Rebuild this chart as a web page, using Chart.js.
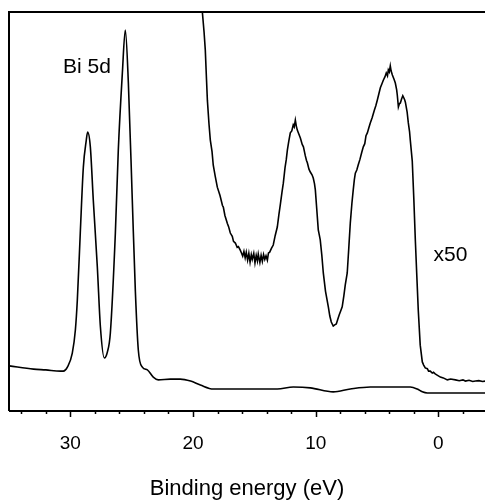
<!DOCTYPE html>
<html>
<head>
<meta charset="utf-8">
<script src="https://cdn.jsdelivr.net/npm/chart.js@4.4.1/dist/chart.umd.min.js"></script>
<style>
  html, body { margin: 0; padding: 0; background: #fff; }
  #wrap { width: 485px; height: 502px; position: relative; }
</style>
</head>
<body>
<div id="wrap"><canvas id="myChart"></canvas></div>
<script>
// Bi 5d spectrum, binding energy (eV) vs intensity (arb. units)
const energyMain = [34.97, 33.0, 32.0, 30.81, 30.57, 30.24, 29.84, 29.59, 29.43, 29.19, 28.94, 28.70, 28.59, 28.37, 28.13, 27.80, 27.55, 27.23, 26.98, 26.74, 26.33, 26.09, 25.76, 25.52, 25.27, 24.95, 24.70, 24.46, 24.13, 23.72, 23.24, 22.83, 21.85, 21.04, 20.2, 19.4, 18.35, 16.15, 13.13, 11.83, 10.44, 8.57, 7.18, 5.55, 2.29, 1.72, 1.31, 0.9, -3.82];
const intensityMain = [113, 105, 103, 100, 100, 110, 145, 203, 278, 446, 611, 679, 699, 662, 529, 361, 211, 133, 148, 195, 446, 654, 847, 955, 822, 529, 300, 153, 110, 103, 85, 78, 80, 80, 75, 65, 55, 55, 55, 60, 58, 48, 55, 60, 60, 55, 48, 45, 45];

// same spectrum magnified x50 (noisy)
const energyZoom = [20.2, 19.24, 19.1, 19.0, 18.9, 18.83, 18.7, 18.59, 18.45, 18.35, 18.2, 18.02, 17.8, 17.6, 17.53, 17.4, 17.2, 17.1, 16.96, 16.8, 16.7, 16.55, 16.4, 16.3, 16.15, 16.05,
  15.95, 15.85, 15.75, 15.66, 15.55, 15.45, 15.35, 15.25, 15.17, 15.05, 14.95, 14.85, 14.75, 14.68, 14.55, 14.45, 14.35, 14.25, 14.15, 14.05, 13.94, 13.85, 13.75, 13.6, 13.46, 13.3, 13.13, 13.0, 12.89, 12.75, 12.64, 12.5, 12.4, 12.31, 12.2, 12.07, 11.95, 11.83, 11.75, 11.66, 11.58, 11.5, 11.4, 11.25, 11.1, 11.0, 10.85, 10.75, 10.68, 10.55, 10.44, 10.3, 10.2, 10.1, 10.03,
  9.9, 9.79, 9.7, 9.63, 9.5, 9.38, 9.2, 8.97, 8.85, 8.73, 8.57, 8.45, 8.32, 8.2, 8.08, 7.95, 7.84, 7.7, 7.59, 7.43, 7.3, 7.18, 7.05, 6.94, 6.85, 6.77, 6.65, 6.53, 6.4, 6.25, 6.12, 6.0, 5.9, 5.79, 5.65, 5.55, 5.4, 5.22, 5.1, 4.98, 4.85, 4.73, 4.6, 4.49, 4.35, 4.25, 4.15, 4.08, 4.0, 3.92, 3.85, 3.75, 3.6, 3.51, 3.4, 3.35, 3.26, 3.18, 3.1, 3.0, 2.9, 2.85, 2.75, 2.69, 2.55, 2.45, 2.35, 2.29, 2.13, 2.0, 1.88, 1.76, 1.64, 1.48, 1.31, 1.2, 1.07, 0.9, 0.8, 0.66, 0.5, 0.4, 0.26, 0.1, -0.16, -0.4, -0.73, -1.0, -1.39, -1.7, -2.0, -2.2, -2.5, -2.8, -3.02, -3.3, -3.6, -3.83];
const intensityZoom = [1080, 1000, 950, 905, 830, 779, 720, 679, 650, 616, 590, 561, 540, 515, 511, 490, 470, 462, 446, 438, 425, 421, 410, 412, 403, 396,
  388, 400, 384, 398, 378, 395, 373, 392, 380, 395, 371, 390, 376, 393, 372, 390, 375, 392, 380, 389, 378, 396, 398, 408, 416, 440, 461, 492, 516, 548, 571, 610, 630, 654, 675, 697, 702, 717, 712, 729, 714, 704, 696, 684, 668, 662, 640, 628, 622, 606, 599, 592, 584, 570, 554,
  500, 454, 440, 429, 390, 346, 300, 261, 238, 223, 213, 216, 218, 230, 241, 252, 261, 290, 316, 346, 410, 471, 520, 554, 580, 596, 604, 617, 630, 648, 662, 670, 690, 697, 712, 722, 735, 754, 765, 779, 795, 810, 820, 829, 838, 847, 840, 855, 850, 865, 852, 842, 830, 822, 805, 792, 762, 770, 772, 782, 790, 787, 780, 774, 750, 722, 700, 679, 627, 530, 429, 340, 253, 165, 123, 115, 108, 106, 100, 100, 95, 97, 93, 90, 85, 83, 78, 80, 78, 76, 78, 75, 77, 74, 75, 76, 74, 75];

const xMin = -3.8, xMax = 35;
const yMin = 0, yMax = 1000;
const xTitle = 'Binding energy (eV)';

function pairs(xs, ys) {
  return xs.map(function(v, i) { return {x: v, y: ys[i]}; });
}

const framePlugin = {
  id: 'frame',
  afterDraw(chart) {
    const ctx = chart.ctx;
    const a = chart.chartArea;
    const sx = chart.scales.x, sy = chart.scales.y;
    ctx.save();
    ctx.strokeStyle = '#000';
    ctx.lineWidth = 2;
    ctx.beginPath();
    ctx.moveTo(a.left, a.bottom);
    ctx.lineTo(a.left, a.top);
    ctx.lineTo(a.right, a.top);
    ctx.moveTo(a.left, a.bottom);
    ctx.lineTo(a.right, a.bottom);
    ctx.stroke();
    // tick marks, longer on the labelled ones
    ctx.lineWidth = 1.5;
    ctx.beginPath();
    sx.ticks.forEach(function(t) {
      const px = Math.round(sx.getPixelForValue(t.value)) + 0.5;
      const len = (Math.abs(t.value) % 10 === 0) ? 6 : 3;
      ctx.moveTo(px, a.bottom);
      ctx.lineTo(px, a.bottom + len);
    });
    ctx.stroke();
    // labels
    ctx.fillStyle = '#000';
    ctx.font = '21px "Liberation Sans", Arial, sans-serif';
    ctx.textBaseline = 'middle';
    ctx.textAlign = 'left';
    ctx.fillText('Bi 5d', sx.getPixelForValue(30.6), sy.getPixelForValue(862));
    ctx.fillText('x50', sx.getPixelForValue(0.4), sy.getPixelForValue(391));
    ctx.restore();
  }
};

const ctx = document.getElementById('myChart');
new Chart(ctx, {
  type: 'line',
  data: {
    datasets: [{
      data: pairs(energyMain, intensityMain),
      borderColor: '#000',
      borderWidth: 1.6,
      pointRadius: 0,
      cubicInterpolationMode: 'monotone'
    }, {
      data: pairs(energyZoom, intensityZoom),
      borderColor: '#000',
      borderWidth: 1.6,
      pointRadius: 0,
      tension: 0
    }]
  },
  options: {
    responsive: true,
    maintainAspectRatio: false,
    animation: false,
    layout: { padding: { left: 9, top: 12, right: 0, bottom: 0 } },
    plugins: { legend: { display: false }, tooltip: { enabled: false } },
    scales: {
      x: {
        type: 'linear',
        reverse: true,
        min: xMin,
        max: xMax,
        grid: { display: true, drawOnChartArea: false, drawTicks: false },
        border: { display: false },
        ticks: {
          stepSize: 2,
          includeBounds: false,
          autoSkip: false,
          maxRotation: 0,
          padding: 21,
          color: '#000',
          font: { family: '"Liberation Sans", Arial, sans-serif', size: 19 },
          callback: function(v) { return (v % 10 === 0) ? String(v) : ''; }
        },
        title: {
          display: true,
          text: xTitle,
          color: '#000',
          padding: { top: 0, bottom: 0 },
          font: { family: '"Liberation Sans", Arial, sans-serif', size: 22 }
        },
        afterFit: function(scale) { scale.height = 91; }
      },
      y: {
        display: false,
        min: yMin,
        max: yMax
      }
    }
  },
  plugins: [framePlugin]
});
</script>
</body>
</html>
